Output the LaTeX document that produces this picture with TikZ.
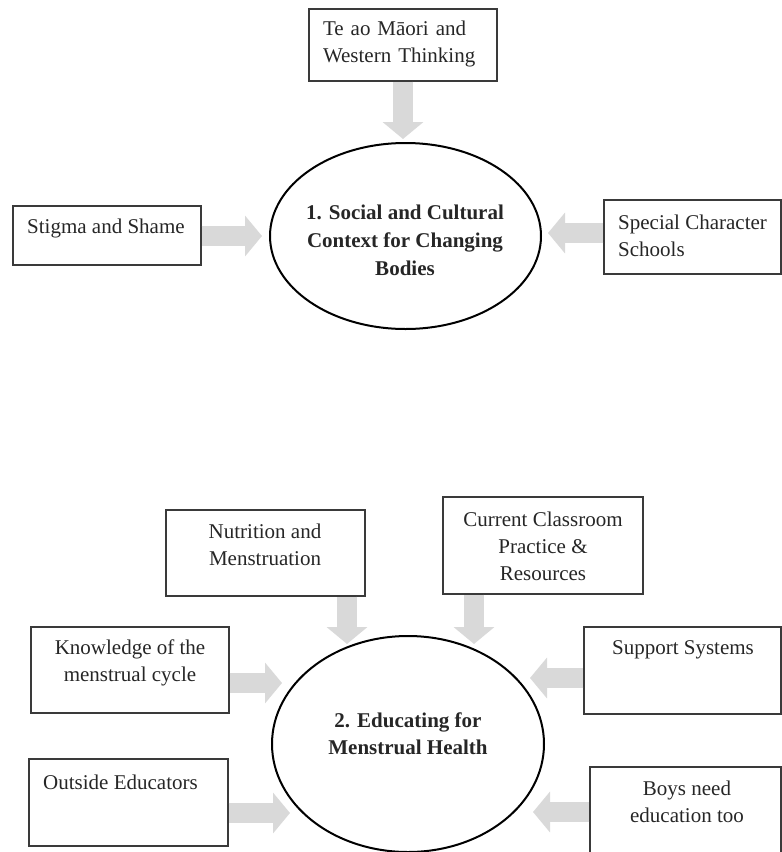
\documentclass[tikz,border=0pt]{standalone}
\usepackage{fontspec}
\setmainfont{Liberation Serif}
\usepackage{xcolor}
\usepackage{tikz}
\usetikzlibrary{shapes,arrows.meta,positioning,calc}
\definecolor{arrowgrey}{HTML}{D9D9D9}
\definecolor{boxline}{HTML}{3A3A3A}

\tikzset{
    box/.style={draw=boxline, line width=1.3pt, rectangle, inner sep=0pt},
    ell/.style={draw=black, line width=2pt, ellipse, inner sep=0pt},
    lbl/.style={font=\fontsize{21}{27}\selectfont, text=black!85, inner sep=0pt},
    blockarrow/.style={arrowgrey, line width=20pt, -{Triangle[width=40pt,length=17pt]}}
}

\begin{document}
\begin{tikzpicture}[x=1pt,y=-1pt]
    \useasboundingbox (0,0) rectangle (782,852);

    % Theme 1
    \node[ell, minimum width=271pt, minimum height=186pt] (social) at (405.5,236) {};
    \node[lbl, align=center, font=\fontsize{21}{28}\selectfont\bfseries] (socialtxt) at (405,240) {1. Social and Cultural\\Context for Changing\\Bodies};

    \node[box, minimum width=188pt, minimum height=72pt] (teao) at (403,45) {};
    \node[lbl, text width=160pt, align=left] (teaotxt) at (403,44) {Te ao Māori and\\Western Thinking};

    \node[box, minimum width=188pt, minimum height=59pt] (stigma) at (107,235.5) {};
    \node[lbl, anchor=west] (stigmatxt) at (27,228) {Stigma and Shame};

    \node[box, minimum width=177pt, minimum height=74pt] (special) at (692.5,237) {};
    \node[lbl, anchor=west, align=left] (specialtxt) at (618,236) {Special Character\\Schools};

    \coordinate (tipteao) at (403,139);
    \coordinate (tipstigma) at (262,236);
    \coordinate (tipspecial) at (548,233);
    \draw[blockarrow] (teao.south) -- (tipteao);
    \draw[blockarrow] (stigma.east |- tipstigma) -- (tipstigma);
    \draw[blockarrow] (special.west |- tipspecial) -- (tipspecial);

    % Theme 2
    \node[ell, minimum width=272pt, minimum height=216pt] (educ) at (408,744) {};
    \node[lbl, align=center, font=\fontsize{21}{27}\selectfont\bfseries] (eductxt) at (408,734) {2. Educating for\\Menstrual Health};

    \node[box, minimum width=199pt, minimum height=86pt] (nutr) at (265.5,553) {};
    \node[lbl, align=center] (nutrtxt) at (265,545) {Nutrition and\\Menstruation};

    \node[box, minimum width=200pt, minimum height=97pt] (class) at (543,545.5) {};
    \node[lbl, align=center] (classtxt) at (543,546) {Current Classroom\\Practice \&\\Resources};

    \node[box, minimum width=198pt, minimum height=86pt] (know) at (130,670) {};
    \node[lbl, align=center] (knowtxt) at (130,663) {Knowledge of the\\menstrual cycle};

    \node[box, minimum width=197pt, minimum height=87pt] (supp) at (682.5,670.5) {};
    \node[lbl] (supptxt) at (683,650) {Support Systems};

    \node[box, minimum width=199pt, minimum height=87pt] (outside) at (128.5,802.5) {};
    \node[lbl, anchor=west] (outsidetxt) at (43,782) {Outside Educators};

    \node[box, minimum width=191pt, minimum height=93pt] (boys) at (685.5,813.5) {};
    \node[lbl, align=center] (boystxt) at (687,802) {Boys need\\education too};

    \coordinate (tipnutr) at (347,644);
    \coordinate (tipclass) at (474,644);
    \coordinate (tipknow) at (282,683);
    \coordinate (tipsupp) at (530,678);
    \coordinate (tipoutside) at (290,813);
    \coordinate (tipboys) at (533,812);
    \draw[blockarrow] (tipnutr |- nutr.south) -- (tipnutr);
    \draw[blockarrow] (tipclass |- class.south) -- (tipclass);
    \draw[blockarrow] (know.east |- tipknow) -- (tipknow);
    \draw[blockarrow] (supp.west |- tipsupp) -- (tipsupp);
    \draw[blockarrow] (outside.east |- tipoutside) -- (tipoutside);
    \draw[blockarrow] (boys.west |- tipboys) -- (tipboys);
\end{tikzpicture}
\end{document}
